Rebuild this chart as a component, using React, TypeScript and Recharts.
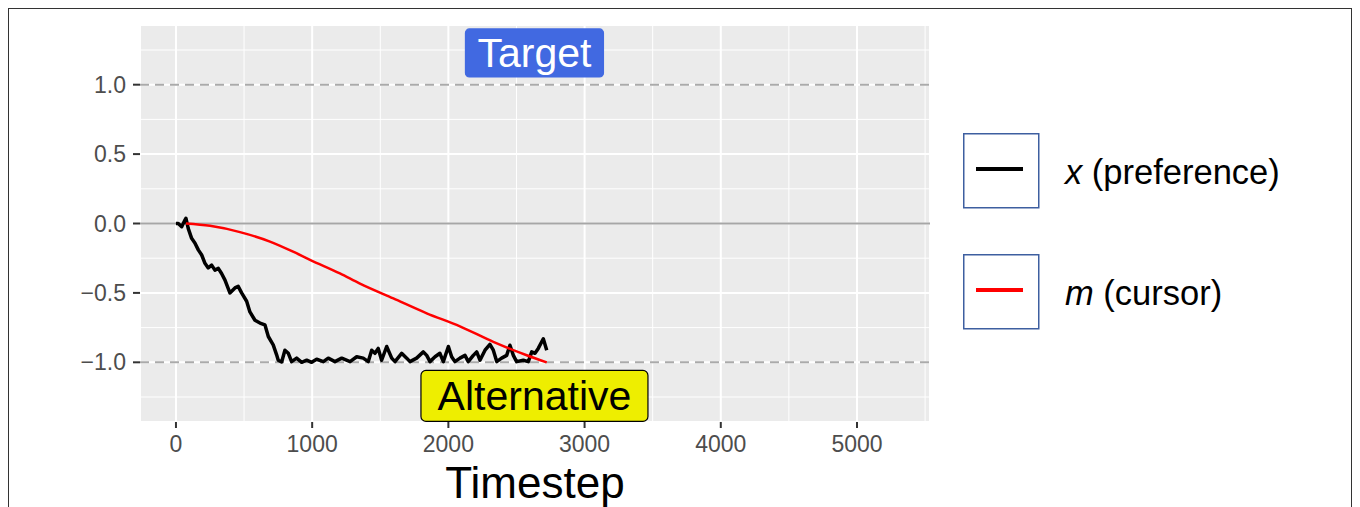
import React from 'react';
import {
  LineChart,
  Line,
  XAxis,
  YAxis,
  CartesianGrid,
  ReferenceLine,
  ReferenceDot,
  Legend,
} from 'recharts';

// ---- data ----
const preferenceTimes = [
  0, 17, 42, 66, 73, 90, 115, 139, 164, 189, 213, 237, 262, 286, 311, 335, 360, 396, 433, 457,
  482, 519, 543, 580, 617, 653, 678, 714, 739, 751, 776, 800, 825, 849, 886, 923, 960, 996,
  1033, 1082, 1118, 1167, 1217, 1278, 1327, 1375, 1412, 1437, 1461, 1485, 1510, 1547, 1584,
  1608, 1657, 1694, 1718, 1767, 1816, 1841, 1865, 1902, 1938, 1963, 2000, 2024, 2048, 2085,
  2122, 2146, 2183, 2208, 2232, 2269, 2305, 2330, 2355, 2391, 2428, 2452, 2477, 2501, 2550,
  2587, 2612, 2636, 2660, 2697, 2722,
];
const preferenceValues = [
  0, 0.0, -0.023, 0.025, 0.038, -0.035, -0.107, -0.14, -0.19, -0.227, -0.287, -0.32, -0.3,
  -0.336, -0.323, -0.36, -0.408, -0.5, -0.464, -0.453, -0.5, -0.56, -0.637, -0.697, -0.717,
  -0.73, -0.814, -0.874, -0.946, -0.985, -0.998, -0.913, -0.935, -0.995, -0.97, -1.0, -0.985,
  -1.0, -0.978, -0.995, -0.97, -0.995, -0.97, -0.995, -0.96, -0.97, -0.995, -0.913, -0.935,
  -0.9, -0.985, -0.886, -0.97, -0.995, -0.935, -0.97, -0.995, -0.97, -0.925, -0.95, -0.995,
  -0.96, -0.935, -0.995, -0.886, -0.96, -0.995, -0.97, -0.95, -0.995, -0.95, -0.925, -0.985,
  -0.913, -0.87, -0.913, -0.995, -0.97, -0.95, -0.877, -0.95, -0.995, -0.985, -0.995, -0.925,
  -0.935, -0.9, -0.83, -0.913,
];
const cursorTimes = [73, 250, 470, 690, 860, 984, 1204, 1351, 1596, 1841, 2085, 2330, 2575, 2722];
const cursorValues = [0, -0.017, -0.062, -0.13, -0.203, -0.262, -0.36, -0.433, -0.54, -0.647, -0.741, -0.853, -0.949, -1.0];

const seriesNames = ['x (preference)', 'm (cursor)'];

const xTicks = [0, 1000, 2000, 3000, 4000, 5000];
const xMinorTicks = [500, 1500, 2500, 3500, 4500, 5500];
const yTicks = [-1, -0.5, 0, 0.5, 1];
const yMinorTicks = [-1.25, -0.75, -0.25, 0.25, 0.75, 1.25];
const boundaryValues = [-1, 1];
const baselineValue = 0;

const annotationLabels = ['Target', 'Alternative'];
const annotationTimes = [2632, 2632];
const annotationValues = [1.229, -1.242];

const xDomain = [-264, 5536];
const yDomain = [-1.43, 1.43];

// ---- derived tables ----
const preferenceData = preferenceTimes.map((t, i) => ({ t, v: preferenceValues[i] }));
const cursorData = cursorTimes.map((t, i) => ({ t, v: cursorValues[i] }));

// ---- styles ----
const FONT = '"Liberation Sans", Arial, Helvetica, sans-serif';
const annotationStyles = [
  { fill: '#4169E1', stroke: '#4169E1', text: '#FFFFFF', w: 138, h: 48, rx: 4 },
  { fill: '#EEEE00', stroke: '#000000', text: '#000000', w: 227, h: 51, rx: 5 },
];

const AnnotationShape = (props: any) => {
  const { cx, cy, idx } = props;
  const s = annotationStyles[idx];
  if (cx == null || cy == null) return null;
  return (
    <g>
      <rect
        x={cx - s.w / 2}
        y={cy - s.h / 2}
        width={s.w}
        height={s.h}
        rx={s.rx}
        ry={s.rx}
        fill={s.fill}
        stroke={s.stroke}
        strokeWidth={1.2}
      />
      <text
        x={cx}
        y={cy + 14.5}
        textAnchor="middle"
        fontSize={41}
        fill={s.text}
        fontFamily={FONT}
      >
        {annotationLabels[idx]}
      </text>
    </g>
  );
};

const LegendContent = (props: any) => {
  const payload = [...(props.payload || [])].sort(
    (a: any, b: any) => seriesNames.indexOf(a.value) - seriesNames.indexOf(b.value)
  );
  return (
    <svg width={390} height={200} style={{ display: 'block', overflow: 'visible' }}>
      {payload.map((entry: any, i: number) => {
        const top = i * 121;
        const parts = String(entry.value).split(' ');
        const sym = parts[0];
        const rest = parts.slice(1).join(' ');
        return (
          <g key={i}>
            <rect
              x={0.75}
              y={top + 0.75}
              width={75}
              height={74}
              fill="#FFFFFF"
              stroke="#3E5FA0"
              strokeWidth={1.5}
            />
            <line x1={13} x2={60} y1={top + 36} y2={top + 36} stroke={entry.color} strokeWidth={4} />
            <text x={102} y={top + 51} fontSize={34.5} fill="#000" fontFamily={FONT}>
              <tspan fontStyle="italic">{sym}</tspan>
              <tspan>{' ' + rest}</tspan>
            </text>
          </g>
        );
      })}
    </svg>
  );
};

const fmtY = (v: number) => v.toFixed(1).replace('-', '\u2212');

export default function App() {
  return (
    <div
      style={{
        width: 1344,
        height: 502,
        border: '1px solid #333',
        boxSizing: 'border-box',
        fontFamily: FONT,
        background: '#fff',
        overflow: 'hidden',
      }}
    >
      <style>{'html { overflow: hidden; }'}</style>
      <LineChart
        width={1342}
        height={498}
        margin={{ top: 16, right: 421, bottom: 0, left: 0 }}
      >
        <CartesianGrid fill="#EBEBEB" stroke="#FFFFFF" strokeWidth={2} />
        <XAxis
          type="number"
          dataKey="t"
          domain={xDomain}
          ticks={xTicks}
          allowDataOverflow
          height={85}
          axisLine={false}
          tickSize={6}
          tickMargin={8}
          tickLine={{ stroke: '#333', strokeWidth: 2 }}
          tick={{ fill: '#4D4D4D', fontSize: 23 }}
          label={{ value: 'Timestep', position: 'insideBottom', offset: 9, fontSize: 44, fill: '#000' }}
        />
        <YAxis
          type="number"
          domain={yDomain}
          ticks={yTicks}
          allowDataOverflow
          width={131}
          axisLine={false}
          tickSize={7}
          tickMargin={7}
          tickLine={{ stroke: '#333', strokeWidth: 2 }}
          tick={{ fill: '#4D4D4D', fontSize: 23 }}
          tickFormatter={fmtY}
        />
        {xMinorTicks.map((x) => (
          <ReferenceLine key={'xm' + x} x={x} stroke="#FFFFFF" strokeWidth={1} ifOverflow="hidden" />
        ))}
        {yMinorTicks.map((y) => (
          <ReferenceLine key={'ym' + y} y={y} stroke="#FFFFFF" strokeWidth={1} ifOverflow="hidden" />
        ))}
        <ReferenceLine y={baselineValue} stroke="#A6A6A6" strokeWidth={2} />
        {boundaryValues.map((y) => (
          <ReferenceLine key={'b' + y} y={y} stroke="#AAAAAA" strokeWidth={2} strokeDasharray="9 6" />
        ))}
        <Line
          data={preferenceData}
          dataKey="v"
          name={seriesNames[0]}
          type="linear"
          stroke="#000000"
          strokeWidth={3.5}
          strokeLinejoin="round"
          dot={false}
          isAnimationActive={false}
        />
        <Line
          data={cursorData}
          dataKey="v"
          name={seriesNames[1]}
          type="monotone"
          stroke="#FF0000"
          strokeWidth={2.5}
          dot={false}
          isAnimationActive={false}
        />
        {annotationLabels.map((lab, i) => (
          <ReferenceDot
            key={lab}
            x={annotationTimes[i]}
            y={annotationValues[i]}
            r={1}
            ifOverflow="visible"
            shape={(p: any) => <AnnotationShape {...p} idx={i} />}
          />
        ))}
        <Legend
          layout="vertical"
          align="center"
          verticalAlign="middle"
          content={<LegendContent />}
          wrapperStyle={{ left: 954, top: 124, width: 390, height: 200, right: 'auto', bottom: 'auto' }}
        />
      </LineChart>
    </div>
  );
}
